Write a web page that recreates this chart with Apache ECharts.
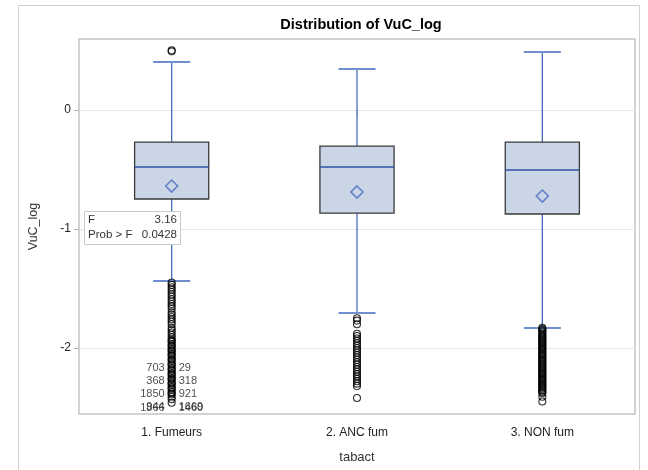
<!DOCTYPE html>
<html>
<head>
<meta charset="utf-8">
<script src="https://cdn.jsdelivr.net/npm/echarts@6/dist/echarts.min.js"></script>
<style>html,body{margin:0;padding:0;background:#fff;}#c{width:648px;height:470px;}</style>
</head>
<body>
<div id="c"></div>
<script>
var categories = ['1. Fumeurs', '2. ANC fum', '3. NON fum'];
var boxMin = [-1.437, -1.706, -1.832];
var boxQ1 = [-0.748, -0.866, -0.874];
var boxMed = [-0.479, -0.479, -0.504];
var boxQ3 = [-0.269, -0.303, -0.269];
var boxMax = [0.403, 0.345, 0.487];
var means = [-0.639, -0.689, -0.723];

var outliersFum = [0.493, 0.502,
  -1.45, -1.47, -1.49, -1.51, -1.53, -1.55, -1.57, -1.59, -1.61, -1.63, -1.65, -1.67,
  -1.70, -1.72, -1.74, -1.76, -1.78, -1.80, -1.83, -1.85, -1.87, -1.89,
  -1.91, -1.93, -1.94, -1.95, -1.97, -1.98, -1.99, -2.01, -2.02, -2.03, -2.05, -2.06, -2.07, -2.09,
  -2.10, -2.11, -2.13, -2.14, -2.15, -2.17, -2.18, -2.19, -2.21, -2.22, -2.23, -2.25, -2.26,
  -2.27, -2.29, -2.30, -2.31, -2.33, -2.34, -2.35, -2.37, -2.38, -2.39, -2.41, -2.43, -2.46];
var outliersAnc = [-1.75, -1.77, -1.80, -1.88, -1.90, -1.92, -1.94, -1.96, -1.98, -2.00,
  -2.02, -2.04, -2.06, -2.08, -2.10, -2.12, -2.14, -2.16, -2.18, -2.20, -2.22, -2.24,
  -2.26, -2.28, -2.30, -2.32, -2.42];
var outliersNon = [-1.83, -1.84, -1.85, -1.86, -1.87, -1.88, -1.89, -1.90, -1.91, -1.92,
  -1.93, -1.94, -1.95, -1.96, -1.97, -1.98, -1.99, -2.00, -2.01, -2.02, -2.03, -2.04,
  -2.05, -2.06, -2.07, -2.08, -2.09, -2.10, -2.11, -2.12, -2.13, -2.14, -2.15, -2.16,
  -2.17, -2.18, -2.19, -2.20, -2.21, -2.22, -2.23, -2.24, -2.25, -2.26, -2.27, -2.28,
  -2.29, -2.30, -2.31, -2.32, -2.33, -2.34, -2.35, -2.36, -2.37, -2.38, -2.41, -2.45];

var leftLabels = ['703', '368', '1850', '1866', '944'];
var leftLabelValues = [-2.17, -2.28, -2.39, -2.505, -2.495];
var rightLabels = ['29', '318', '921', '1460', '1669'];
var rightLabelValues = [-2.17, -2.28, -2.39, -2.505, -2.495];

var yTicks = [-2, -1, 0];
var fStat = '3.16';
var pValue = '0.0428';

var FONT = '"Liberation Sans", Arial, sans-serif';
var chart = echarts.init(document.getElementById('c'), null, {renderer: 'canvas'});

var boxData = categories.map(function (c, i) {
  return [i, boxMin[i], boxQ1[i], boxMed[i], boxQ3[i], boxMax[i]];
});
function outPts(arr, i) { return arr.map(function (v) { return [i, v]; }); }
var outData = outPts(outliersFum, 0).concat(outPts(outliersAnc, 1)).concat(outPts(outliersNon, 2));
var labData = [];
leftLabels.forEach(function (t, k) {
  labData.push({name: t, value: [0, leftLabelValues[k]], label: {position: 'left', distance: 7}});
});
rightLabels.forEach(function (t, k) {
  labData.push({name: t, value: [0, rightLabelValues[k]], label: {position: 'right', distance: 7}});
});

var option = {
  backgroundColor: '#fff',
  animation: false,
  title: {
    text: 'Distribution of VuC_log', left: 356, top: 12, textAlign: 'center',
    textStyle: {fontFamily: FONT, fontSize: 14.5, fontWeight: 'bold', color: '#000'}
  },
  grid: {left: 79, top: 39, right: 13, bottom: 56, show: true, borderColor: '#c4c4c4', borderWidth: 1.5},
  xAxis: {
    type: 'category', data: categories, boundaryGap: true,
    name: 'tabact', nameLocation: 'middle', nameGap: 37,
    nameTextStyle: {fontFamily: FONT, fontSize: 13, color: '#333'},
    axisLine: {show: false},
    axisTick: {show: true, alignWithLabel: true, length: 5, lineStyle: {color: '#b0b0b0'}},
    axisLabel: {fontFamily: FONT, fontSize: 12, color: '#222', margin: 13},
    splitLine: {show: false}
  },
  yAxis: {
    type: 'value', min: -2.555, max: 0.597,
    name: 'VuC_log', nameLocation: 'middle', nameGap: 39, nameRotate: 90,
    nameTextStyle: {fontFamily: FONT, fontSize: 12.5, color: '#333'},
    axisLine: {show: false},
    axisTick: {show: true, length: 5, lineStyle: {color: '#b0b0b0'}, customValues: yTicks},
    axisLabel: {fontFamily: FONT, fontSize: 12, color: '#222', margin: 8, customValues: yTicks},
    splitLine: {show: true, lineStyle: {color: '#e6e6e6'}},
    interval: 1
  },
  graphic: [
    {type: 'rect', shape: {x: 18.5, y: 5.5, width: 621, height: 480}, style: {fill: 'none', stroke: '#d0d0d0', lineWidth: 1}, z: -10},
    {type: 'rect', z: 100, left: 84, top: 211, shape: {x: 0, y: 0, width: 96, height: 33}, style: {fill: '#fff', stroke: '#c8c8c8', lineWidth: 1}},
    {type: 'text', z: 101, x: 88, y: 214, style: {text: 'F', font: '11.5px ' + FONT, fill: '#333'}},
    {type: 'text', z: 101, x: 177, y: 214, style: {text: fStat, font: '11.5px ' + FONT, fill: '#333', textAlign: 'right'}},
    {type: 'text', z: 101, x: 88, y: 229, style: {text: 'Prob > F', font: '11.5px ' + FONT, fill: '#333'}},
    {type: 'text', z: 101, x: 177, y: 229, style: {text: pValue, font: '11.5px ' + FONT, fill: '#333', textAlign: 'right'}}
  ],
  series: [
    {
      type: 'custom', z: 3,
      data: boxData,
      encode: {x: 0, y: [1, 2, 3, 4, 5]},
      renderItem: function (params, api) {
        var i = api.value(0);
        var bw = api.size([1, 0])[0];
        var hw = bw * 0.2, cw = bw * 0.1;
        var pMin = api.coord([i, api.value(1)]);
        var pQ1 = api.coord([i, api.value(2)]);
        var pMed = api.coord([i, api.value(3)]);
        var pQ3 = api.coord([i, api.value(4)]);
        var pMax = api.coord([i, api.value(5)]);
        var x = pMin[0];
        var wStyle = {stroke: '#4a6cbf', lineWidth: 1.3};
        return {type: 'group', children: [
          {type: 'line', shape: {x1: x, y1: pQ3[1], x2: x, y2: pMax[1]}, style: wStyle},
          {type: 'line', shape: {x1: x, y1: pQ1[1], x2: x, y2: pMin[1]}, style: wStyle},
          {type: 'line', shape: {x1: x - cw, y1: pMax[1], x2: x + cw, y2: pMax[1]}, style: {stroke: '#6f8fd0', lineWidth: 2}},
          {type: 'line', shape: {x1: x - cw, y1: pMin[1], x2: x + cw, y2: pMin[1]}, style: {stroke: '#6f8fd0', lineWidth: 2}},
          {type: 'rect', shape: {x: x - hw, y: pQ3[1], width: 2 * hw, height: pQ1[1] - pQ3[1]}, style: {fill: '#cad5e6', stroke: '#3a3a3a', lineWidth: 1.3}},
          {type: 'line', shape: {x1: x - hw, y1: pMed[1], x2: x + hw, y2: pMed[1]}, style: {stroke: '#2f52a8', lineWidth: 1.3}}
        ]};
      }
    },
    {
      type: 'scatter', z: 4,
      data: means.map(function (m, i) { return [i, m]; }),
      symbol: 'diamond', symbolSize: [12, 12],
      itemStyle: {color: 'rgba(0,0,0,0)', borderColor: '#4a6cbf', borderWidth: 1.6}
    },
    {
      type: 'scatter', z: 5,
      data: outData,
      symbol: 'circle', symbolSize: 7,
      itemStyle: {color: 'rgba(0,0,0,0)', borderColor: '#000', borderWidth: 1.1}
    },
    {
      type: 'scatter', z: 6,
      data: labData,
      symbolSize: 0,
      label: {show: true, formatter: '{b}', fontFamily: FONT, fontSize: 11, color: '#222'}
    }
  ]
};
chart.setOption(option);
</script>
</body>
</html>
